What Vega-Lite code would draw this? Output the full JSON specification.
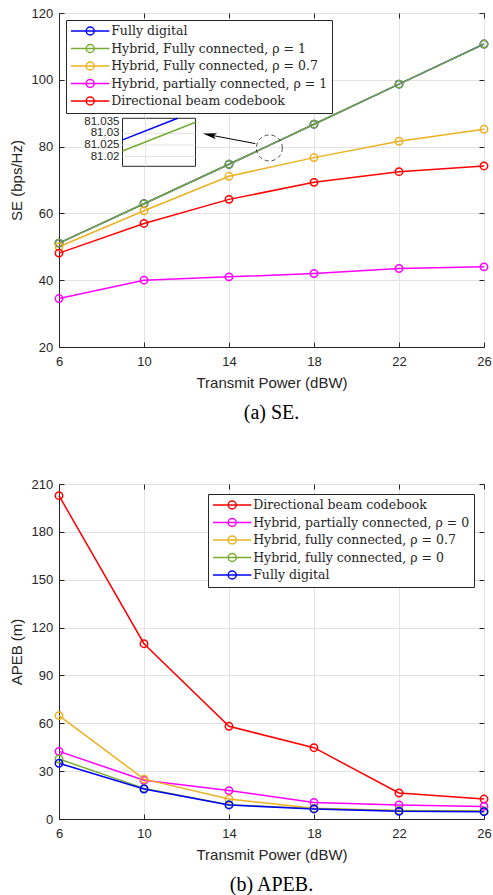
{
  "$schema": "https://vega.github.io/schema/vega-lite/v6.json",
  "padding": {"left": 8, "top": 6, "right": 3, "bottom": 3},
  "background": "white",
  "datasets": {
    "se": [
      {"s": "Fully digital", "x": 6, "y": 51.105},
      {"s": "Fully digital", "x": 10, "y": 62.905},
      {"s": "Fully digital", "x": 14, "y": 74.705},
      {"s": "Fully digital", "x": 18, "y": 86.705},
      {"s": "Fully digital", "x": 22, "y": 98.705},
      {"s": "Fully digital", "x": 26, "y": 110.705},
      {"s": "Hybrid, Fully connected, ρ = 1", "x": 6, "y": 51.1},
      {"s": "Hybrid, Fully connected, ρ = 1", "x": 10, "y": 62.9},
      {"s": "Hybrid, Fully connected, ρ = 1", "x": 14, "y": 74.7},
      {"s": "Hybrid, Fully connected, ρ = 1", "x": 18, "y": 86.7},
      {"s": "Hybrid, Fully connected, ρ = 1", "x": 22, "y": 98.7},
      {"s": "Hybrid, Fully connected, ρ = 1", "x": 26, "y": 110.7},
      {"s": "Hybrid, Fully connected, ρ = 0.7", "x": 6, "y": 50.0},
      {"s": "Hybrid, Fully connected, ρ = 0.7", "x": 10, "y": 60.8},
      {"s": "Hybrid, Fully connected, ρ = 0.7", "x": 14, "y": 71.1},
      {"s": "Hybrid, Fully connected, ρ = 0.7", "x": 18, "y": 76.7},
      {"s": "Hybrid, Fully connected, ρ = 0.7", "x": 22, "y": 81.6},
      {"s": "Hybrid, Fully connected, ρ = 0.7", "x": 26, "y": 85.2},
      {"s": "Hybrid, partially connected, ρ = 1", "x": 6, "y": 34.5},
      {"s": "Hybrid, partially connected, ρ = 1", "x": 10, "y": 40.0},
      {"s": "Hybrid, partially connected, ρ = 1", "x": 14, "y": 41.0},
      {"s": "Hybrid, partially connected, ρ = 1", "x": 18, "y": 42.0},
      {"s": "Hybrid, partially connected, ρ = 1", "x": 22, "y": 43.5},
      {"s": "Hybrid, partially connected, ρ = 1", "x": 26, "y": 44.0},
      {"s": "Directional beam codebook", "x": 6, "y": 48.1},
      {"s": "Directional beam codebook", "x": 10, "y": 57.0},
      {"s": "Directional beam codebook", "x": 14, "y": 64.2},
      {"s": "Directional beam codebook", "x": 18, "y": 69.3},
      {"s": "Directional beam codebook", "x": 22, "y": 72.5},
      {"s": "Directional beam codebook", "x": 26, "y": 74.2}
    ],
    "apeb": [
      {"s": "Directional beam codebook", "x": 6, "y": 202.7},
      {"s": "Directional beam codebook", "x": 10, "y": 109.9},
      {"s": "Directional beam codebook", "x": 14, "y": 58.1},
      {"s": "Directional beam codebook", "x": 18, "y": 44.7},
      {"s": "Directional beam codebook", "x": 22, "y": 16.3},
      {"s": "Directional beam codebook", "x": 26, "y": 12.5},
      {"s": "Hybrid, partially connected, ρ = 0", "x": 6, "y": 42.4},
      {"s": "Hybrid, partially connected, ρ = 0", "x": 10, "y": 24.3},
      {"s": "Hybrid, partially connected, ρ = 0", "x": 14, "y": 17.8},
      {"s": "Hybrid, partially connected, ρ = 0", "x": 18, "y": 10.4},
      {"s": "Hybrid, partially connected, ρ = 0", "x": 22, "y": 8.8},
      {"s": "Hybrid, partially connected, ρ = 0", "x": 26, "y": 7.9},
      {"s": "Hybrid, fully connected, ρ = 0.7", "x": 6, "y": 64.8},
      {"s": "Hybrid, fully connected, ρ = 0.7", "x": 10, "y": 25.0},
      {"s": "Hybrid, fully connected, ρ = 0.7", "x": 14, "y": 12.5},
      {"s": "Hybrid, fully connected, ρ = 0.7", "x": 18, "y": 6.7},
      {"s": "Hybrid, fully connected, ρ = 0.7", "x": 22, "y": 5.4},
      {"s": "Hybrid, fully connected, ρ = 0.7", "x": 26, "y": 5.0},
      {"s": "Hybrid, fully connected, ρ = 0", "x": 6, "y": 37.6},
      {"s": "Hybrid, fully connected, ρ = 0", "x": 10, "y": 19.2},
      {"s": "Hybrid, fully connected, ρ = 0", "x": 14, "y": 9.0},
      {"s": "Hybrid, fully connected, ρ = 0", "x": 18, "y": 6.5},
      {"s": "Hybrid, fully connected, ρ = 0", "x": 22, "y": 5.2},
      {"s": "Hybrid, fully connected, ρ = 0", "x": 26, "y": 4.8},
      {"s": "Fully digital", "x": 6, "y": 34.9},
      {"s": "Fully digital", "x": 10, "y": 18.8},
      {"s": "Fully digital", "x": 14, "y": 8.8},
      {"s": "Fully digital", "x": 18, "y": 6.3},
      {"s": "Fully digital", "x": 22, "y": 4.8},
      {"s": "Fully digital", "x": 26, "y": 4.6}
    ],
    "inset": [
      {"s": "Fully digital", "x": 16.107, "y": 81.0272},
      {"s": "Fully digital", "x": 16.1101, "y": 81.0365},
      {"s": "Hybrid, Fully connected, ρ = 1", "x": 16.107, "y": 81.0224},
      {"s": "Hybrid, Fully connected, ρ = 1", "x": 16.1111, "y": 81.0348}
    ],
    "insetTicks": [
      {"y": 81.02, "t": "81.02"},
      {"y": 81.025, "t": "81.025"},
      {"y": 81.03, "t": "81.03"},
      {"y": 81.035, "t": "81.035"}
    ]
  },
  "vconcat": [
    {
      "width": 425,
      "height": 334,
      "title": {"text": "(a) SE."},
      "layer": [
        {
          "data": {"name": "se"},
          "layer": [
            {
              "mark": {"type": "line", "strokeWidth": 1.5},
              "encoding": {
                "x": {"field": "x", "type": "quantitative", "scale": {"domain": [6, 26], "nice": false, "zero": false},
                      "axis": {"title": "Transmit Power (dBW)", "values": [6, 10, 14, 18, 22, 26], "grid": true}},
                "y": {"field": "y", "type": "quantitative", "scale": {"domain": [20, 120], "nice": false, "zero": false},
                      "axis": {"title": "SE (bps/Hz)", "values": [20, 40, 60, 80, 100, 120], "grid": true}},
                "color": {"field": "s", "type": "nominal",
                  "scale": {"domain": ["Fully digital", "Hybrid, Fully connected, ρ = 1", "Hybrid, Fully connected, ρ = 0.7", "Hybrid, partially connected, ρ = 1", "Directional beam codebook"],
                            "range": ["#0000FF", "#77AC30", "#EDB120", "#FF00FF", "#FF0000"]},
                  "legend": {"orient": "top-left", "offset": 7, "title": null,
                    "symbolType": "M-3.2,0H3.2M-0.67,0A0.67,0.67,0,1,1,0.67,0A0.67,0.67,0,1,1,-0.67,0",
                    "symbolSize": 144, "symbolStrokeWidth": 1.5, "symbolFillColor": "transparent",
                    "symbolOffset": 13.2, "labelOffset": 14, "labelLimit": 400,
                    "fillColor": "white", "strokeColor": "#262626", "padding": 4, "rowPadding": 1.5,
                    "labelFont": "DejaVu Serif", "labelFontSize": 12.5, "labelColor": "#262626"}}
              }
            },
            {
              "mark": {"type": "point", "shape": "circle", "filled": false, "size": 55, "strokeWidth": 1.5, "opacity": 1},
              "encoding": {
                "x": {"field": "x", "type": "quantitative", "axis": null},
                "y": {"field": "y", "type": "quantitative", "axis": null},
                "color": {"field": "s", "type": "nominal", "legend": null}
              }
            },
            {
              "mark": {"type": "point", "opacity": 0},
              "encoding": {
                "x": {"field": "x", "type": "quantitative", "axis": {"orient": "top", "labels": false, "title": null, "grid": false, "domain": false, "values": [6, 10, 14, 18, 22, 26]}},
                "y": {"field": "y", "type": "quantitative", "axis": {"orient": "right", "labels": false, "title": null, "grid": false, "domain": false, "values": [20, 40, 60, 80, 100, 120]}}
              }
            },
            {
              "data": {"values": [{"x": 15.9, "y": 79.6}]},
              "mark": {"type": "point", "shape": "circle", "size": 676, "filled": false, "stroke": "black", "strokeWidth": 1, "strokeDash": [4, 3]},
              "encoding": {
                "x": {"field": "x", "type": "quantitative", "axis": null},
                "y": {"field": "y", "type": "quantitative", "axis": null}
              }
            },
            {
              "data": {"values": [{"x": 15.24, "y": 80.9, "x2": 13.0, "y2": 83.6}]},
              "mark": {"type": "rule", "color": "black", "strokeWidth": 1},
              "encoding": {
                "x": {"field": "x", "type": "quantitative", "axis": null},
                "y": {"field": "y", "type": "quantitative", "axis": null},
                "x2": {"field": "x2"},
                "y2": {"field": "y2"}
              }
            },
            {
              "data": {"values": [{"x": 13.087, "y": 83.5}]},
              "mark": {"type": "point", "shape": "M-1,0L1,-0.45L0.55,0L1,0.45Z", "size": 196, "filled": true, "color": "black", "angle": 10.8, "opacity": 1},
              "encoding": {
                "x": {"field": "x", "type": "quantitative", "axis": null},
                "y": {"field": "y", "type": "quantitative", "axis": null}
              }
            }
          ],
          "resolve": {"axis": {"x": "independent", "y": "independent"}}
        },
        {
          "layer": [
            {
              "data": {"values": [{"x0": 16.107, "x1": 16.1111, "y0": 81.0158, "y1": 81.0365}]},
              "mark": {"type": "rect", "fill": "white", "stroke": "#262626", "strokeWidth": 1},
              "encoding": {
                "x": {"field": "x0", "type": "quantitative", "scale": {"domain": [16.107, 16.1111], "range": [63.5, 136.5], "nice": false, "zero": false}, "axis": null},
                "x2": {"field": "x1"},
                "y": {"field": "y0", "type": "quantitative", "scale": {"domain": [81.0158, 81.0365], "range": [153.3, 105.3], "nice": false, "zero": false}, "axis": null},
                "y2": {"field": "y1"}
              }
            },
            {
              "data": {"values": [
                {"x0": 16.107, "x1": 16.1111, "y0": 81.02, "y1": 81.02},
                {"x0": 16.107, "x1": 16.1111, "y0": 81.025, "y1": 81.025},
                {"x0": 16.107, "x1": 16.1111, "y0": 81.03, "y1": 81.03},
                {"x0": 16.1083, "x1": 16.1083, "y0": 81.0158, "y1": 81.0365}
              ]},
              "mark": {"type": "rule", "color": "#e3e3e3", "strokeWidth": 1},
              "encoding": {
                "x": {"field": "x0", "type": "quantitative", "axis": null},
                "x2": {"field": "x1"},
                "y": {"field": "y0", "type": "quantitative", "axis": null},
                "y2": {"field": "y1"}
              }
            },
            {
              "data": {"name": "insetTicks"},
              "mark": {"type": "text", "align": "right", "baseline": "middle", "dx": -3, "font": "Liberation Sans", "fontSize": 11.5, "color": "#262626"},
              "encoding": {
                "x": {"datum": 16.107, "type": "quantitative", "axis": null},
                "y": {"field": "y", "type": "quantitative", "axis": null},
                "text": {"field": "t"}
              }
            },
            {
              "data": {"name": "inset"},
              "mark": {"type": "line", "strokeWidth": 1.5},
              "encoding": {
                "x": {"field": "x", "type": "quantitative", "axis": null},
                "y": {"field": "y", "type": "quantitative", "axis": null},
                "color": {"field": "s", "type": "nominal", "legend": null}
              }
            }
          ]
        }
      ],
      "resolve": {"scale": {"x": "independent", "y": "independent"}}
    },
    {
      "width": 425,
      "height": 335,
      "title": {"text": "(b) APEB."},
      "data": {"name": "apeb"},
      "layer": [
        {
          "mark": {"type": "line", "strokeWidth": 1.5},
          "encoding": {
            "x": {"field": "x", "type": "quantitative", "scale": {"domain": [6, 26], "nice": false, "zero": false},
                  "axis": {"title": "Transmit Power (dBW)", "values": [6, 10, 14, 18, 22, 26], "grid": true}},
            "y": {"field": "y", "type": "quantitative", "scale": {"domain": [0, 210], "nice": false},
                  "axis": {"title": "APEB (m)", "values": [0, 30, 60, 90, 120, 150, 180, 210], "grid": true}},
            "color": {"field": "s", "type": "nominal",
              "scale": {"domain": ["Directional beam codebook", "Hybrid, partially connected, ρ = 0", "Hybrid, fully connected, ρ = 0.7", "Hybrid, fully connected, ρ = 0", "Fully digital"],
                        "range": ["#FF0000", "#FF00FF", "#EDB120", "#77AC30", "#0000FF"]},
              "legend": {"orient": "top-right", "offset": 10, "title": null,
                "symbolType": "M-3.2,0H3.2M-0.67,0A0.67,0.67,0,1,1,0.67,0A0.67,0.67,0,1,1,-0.67,0",
                "symbolSize": 144, "symbolStrokeWidth": 1.5, "symbolFillColor": "transparent",
                "symbolOffset": 13.2, "labelOffset": 14, "labelLimit": 400,
                "fillColor": "white", "strokeColor": "#262626", "padding": 4, "rowPadding": 1.5,
                "labelFont": "DejaVu Serif", "labelFontSize": 12.5, "labelColor": "#262626"}}
          }
        },
        {
          "mark": {"type": "point", "shape": "circle", "filled": false, "size": 55, "strokeWidth": 1.5, "opacity": 1},
          "encoding": {
            "x": {"field": "x", "type": "quantitative", "axis": null},
            "y": {"field": "y", "type": "quantitative", "axis": null},
            "color": {"field": "s", "type": "nominal", "legend": null}
          }
        },
        {
          "mark": {"type": "point", "opacity": 0},
          "encoding": {
            "x": {"field": "x", "type": "quantitative", "axis": {"orient": "top", "labels": false, "title": null, "grid": false, "domain": false, "values": [6, 10, 14, 18, 22, 26]}},
            "y": {"field": "y", "type": "quantitative", "axis": {"orient": "right", "labels": false, "title": null, "grid": false, "domain": false, "values": [0, 30, 60, 90, 120, 150, 180, 210]}}
          }
        }
      ],
      "resolve": {"axis": {"x": "independent", "y": "independent"}}
    }
  ],
  "spacing": 54,
  "resolve": {"scale": {"color": "independent"}, "legend": {"color": "independent"}},
  "config": {
    "view": {"stroke": "#262626", "strokeWidth": 1},
    "axis": {
      "domainColor": "#262626", "domainWidth": 1,
      "tickColor": "#262626", "tickSize": -5, "tickWidth": 1,
      "labelFont": "Liberation Sans", "labelFontSize": 13, "labelColor": "#262626",
      "titleFont": "Liberation Sans", "titleFontSize": 15, "titleFontWeight": "normal", "titleColor": "#262626", "titlePadding": 7,
      "gridColor": "#e3e3e3", "gridWidth": 1,
      "labelOverlap": false, "labelFlush": false, "labelBound": false
    },
    "axisX": {"labelPadding": 13.5},
    "axisY": {"labelPadding": 11.3},
    "legend": {"labelFont": "DejaVu Serif", "labelFontSize": 12.5, "labelColor": "#262626", "labelLimit": 400},
    "title": {"font": "Liberation Serif", "fontSize": 20, "fontWeight": "normal", "color": "black", "orient": "bottom", "offset": 12, "anchor": "middle"}
  }
}
